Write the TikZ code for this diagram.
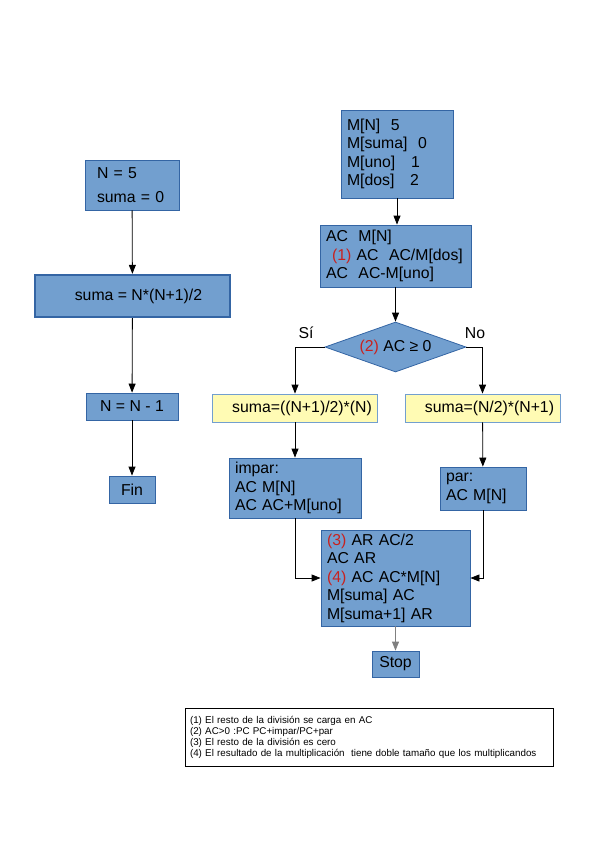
\documentclass[tikz,border=0pt]{standalone}
\usepackage{fontspec}
\setmainfont{Liberation Sans}
\usetikzlibrary{shapes,arrows.meta,positioning}

\definecolor{azul}{RGB}{114,159,207}
\definecolor{borde}{RGB}{52,101,164}
\definecolor{amarillo}{RGB}{255,251,180}
\definecolor{rojo}{RGB}{201,33,30}
\newcommand{\nota}[1]{\textcolor{rojo}{(#1)}}

\begin{document}
\begin{tikzpicture}[x=1pt,y=-1pt,>={Triangle[length=9pt,width=7pt]}]
    \tikzstyle{caja}=[rectangle,draw=borde,fill=azul,line width=0.8pt,inner
    xsep=6pt,inner ysep=0pt,align=left,font=\fontsize{15.8}{18.5}\selectfont]
    \tikzstyle{calc}=[caja,fill=amarillo,draw=azul,align=center]
    \tikzstyle{cond}=[diamond,draw=borde,fill=azul,line width=0.8pt,inner
    sep=0pt,aspect=2.8,font=\fontsize{15.8}{18.5}\selectfont]
    \tikzstyle{txt}=[font=\fontsize{15.8}{18.5}\selectfont]
    \tikzstyle{flecha}=[->,line width=0.8pt]

    \useasboundingbox (0,0) rectangle (595,841);

    % columna izquierda
    \node[caja,text width=70pt,inner xsep=12pt,minimum height=50pt](ini) at (132,185)
      {N = 5\\[5pt]suma = 0};
    \node[caja,line width=2.4pt,minimum width=195pt,minimum height=42pt,align=center](formula)
      at (132.5,296) {\hspace*{12pt}suma = N*(N+1)/2};
    \node[caja,minimum width=92pt,minimum height=27pt,align=center](dec) at (132,406.5)
      {N = N - 1};
    \node[caja,minimum width=46pt,minimum height=27pt,align=center](fin) at (132,489.5)
      {Fin};

    \draw[flecha] (ini) -- (formula);
    \draw[flecha] (formula) -- (dec);
    \draw[flecha] (dec) -- (fin);

    % columna derecha
    \node[caja,text width=100pt,minimum height=88pt](mem) at (397,154)
      {M[N]\ \ 5\\M[suma]\ \ 0\\M[uno]\ \ \ 1\\M[dos]\ \ \ 2};
    \node[caja,text width=139pt,minimum height=62pt](ac) at (395.5,256)
      {AC\ \ M[N]\\\hspace*{6pt}\nota{1} AC\ \ AC/M[dos]\\AC\ \ AC-M[uno]};
    \node[cond,minimum width=141pt,minimum height=50pt](par?) at (395.5,347)
      {\nota{2} AC ≥ 0};
    \node[txt](si_lbl) at (306,333) {Sí};
    \node[txt](no_lbl) at (475,333) {No};

    \node[calc,minimum width=160pt,minimum height=28pt](si) at (295,408)
      {\hspace*{14pt}suma=((N+1)/2)*(N)};
    \node[calc,minimum width=147pt,minimum height=28pt](no) at (482.5,408)
      {\hspace*{14pt}suma=(N/2)*(N+1)};

    \node[caja,text width=120pt,minimum height=60pt](impar) at (295,488)
      {impar:\\AC M[N]\\AC AC+M[uno]};
    \node[caja,text width=74pt,minimum height=43pt](par) at (483,488.5)
      {par:\\AC M[N]};

    \node[caja,text width=137pt,minimum height=96pt](fmul) at (395.5,578)
      {\nota{3} AR AC/2\\AC AR\\\nota{4} AC AC*M[N]\\M[suma] AC\\M[suma+1] AR};
    \node[caja,minimum width=47pt,minimum height=26pt,align=center](stop) at (395.5,664)
      {Stop};

    \draw[flecha] (mem.south) -- (mem.south |- ac.north);
    \draw[flecha] (ac) -- (par?);
    \draw[flecha] (par?.west) -| (si);
    \draw[flecha] (par?.east) -| (no);
    \draw[flecha] (si) -- (impar);
    \draw[flecha] (no) -- (par);
    \draw[flecha] (impar.south) |- (fmul.west);
    \draw[flecha] (par.south) |- (fmul.east);
    \draw[flecha,draw=gray] (fmul) -- (stop);

    % notas
    \node[rectangle,draw=black,line width=0.8pt,text width=358pt,inner xsep=5pt,
      minimum height=58pt,align=left,font=\fontsize{9.8}{11}\selectfont](notas) at (369,737)
      {(1) El resto de la división se carga en AC\\
       (2) AC>0 :PC PC+impar/PC+par\\
       (3) El resto de la división es cero\\
       (4) El resultado de la multiplicación\ \ tiene doble tamaño que los multiplicandos};
\end{tikzpicture}
\end{document}
